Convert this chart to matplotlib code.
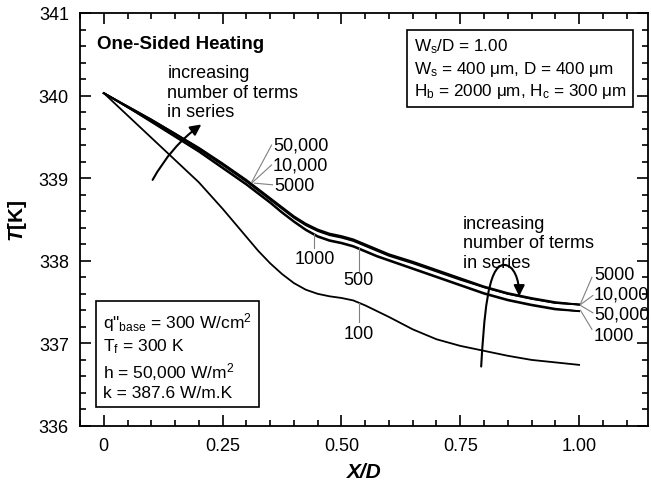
import numpy as np
import matplotlib
matplotlib.use('Agg')
import matplotlib.pyplot as plt
from matplotlib.patches import FancyArrowPatch
from matplotlib.path import Path
from matplotlib.ticker import MultipleLocator, FixedLocator

plt.rcParams['font.family'] = ['Liberation Sans', 'DejaVu Sans']
plt.rcParams['mathtext.fontset'] = 'custom'
plt.rcParams['mathtext.rm'] = 'Liberation Sans'
plt.rcParams['mathtext.it'] = 'Liberation Sans:italic:bold'
plt.rcParams['mathtext.bf'] = 'Liberation Sans:bold'

# X/D positions
xd = [0, 0.05, 0.10, 0.15, 0.20, 0.25, 0.30, 0.325, 0.35, 0.375, 0.40, 0.425, 0.45, 0.475, 0.50,
      0.525, 0.55, 0.575, 0.60, 0.65, 0.70, 0.75, 0.80, 0.85, 0.90, 0.95, 1.00]

# temperature [K] for different numbers of series terms
T_50000 = [340.03, 339.87, 339.71, 339.54, 339.37, 339.18, 338.98, 338.87, 338.76, 338.65, 338.54, 338.45, 338.38, 338.33, 338.30,
           338.26, 338.20, 338.14, 338.08, 337.99, 337.89, 337.79, 337.69, 337.61, 337.55, 337.50, 337.47]
T_10000 = [340.03, 339.87, 339.71, 339.54, 339.36, 339.17, 338.97, 338.86, 338.75, 338.64, 338.53, 338.44, 338.37, 338.32, 338.29,
           338.25, 338.19, 338.13, 338.07, 337.98, 337.88, 337.78, 337.68, 337.60, 337.54, 337.49, 337.47]
T_5000 = [340.03, 339.86, 339.70, 339.53, 339.35, 339.16, 338.96, 338.85, 338.74, 338.63, 338.52, 338.43, 338.36, 338.31, 338.28,
          338.24, 338.18, 338.12, 338.06, 337.97, 337.87, 337.77, 337.68, 337.60, 337.54, 337.49, 337.47]
T_1000 = [340.03, 339.86, 339.69, 339.51, 339.33, 339.13, 338.93, 338.82, 338.71, 338.59, 338.48, 338.38, 338.30, 338.25, 338.22,
          338.18, 338.12, 338.06, 338.01, 337.91, 337.81, 337.71, 337.61, 337.53, 337.47, 337.42, 337.39]
T_500 = [340.03, 339.86, 339.68, 339.50, 339.32, 339.12, 338.92, 338.81, 338.70, 338.58, 338.47, 338.37, 338.29, 338.24, 338.21,
         338.17, 338.11, 338.05, 338.00, 337.90, 337.80, 337.70, 337.60, 337.52, 337.46, 337.41, 337.39]
T_100 = [340.03, 339.76, 339.49, 339.22, 338.95, 338.63, 338.29, 338.12, 337.97, 337.84, 337.73, 337.65, 337.60, 337.57, 337.55,
         337.52, 337.46, 337.39, 337.32, 337.17, 337.05, 336.97, 336.91, 336.85, 336.80, 336.77, 336.74]

xticks = [0, 0.25, 0.5, 0.75, 1.0]
xticklabels = ['0', '0.25', '0.50', '0.75', '1.00']
yticks = [336, 337, 338, 339, 340, 341]

fig = plt.figure(figsize=(6.51, 4.89), dpi=100)
ax = fig.add_axes([0.1229, 0.1268, 0.8725, 0.8446])

for T in [T_50000, T_10000, T_5000, T_1000, T_500]:
    ax.plot(xd, T, color='black', lw=1.3)
ax.plot(xd, T_100, color='black', lw=1.3)

ax.set_xlim(-0.05, 1.145)
ax.set_ylim(336, 341)
ax.xaxis.set_major_locator(FixedLocator(xticks))
ax.set_xticklabels(xticklabels)
ax.xaxis.set_minor_locator(MultipleLocator(0.05))
ax.set_yticks(yticks)
ax.yaxis.set_minor_locator(MultipleLocator(0.2))
ax.tick_params(which='both', direction='in', top=True, right=True, labelsize=13, width=1.2)
ax.tick_params(which='major', length=8, pad=8)
ax.tick_params(which='minor', length=4)
for s in ax.spines.values():
    s.set_linewidth(1.3)

ax.set_xlabel('X/D', fontsize=15, fontstyle='italic', fontweight='bold', labelpad=6)
ax.set_ylabel(r'$T$[K]', fontsize=15, fontweight='bold', labelpad=7)

ax.text(-0.015, 340.63, 'One-Sided Heating', fontsize=13.5, fontweight='bold', va='center')

fs = 13
# curve labels with gray leader lines
lead = dict(color='gray', lw=0.8)
ax.plot([0.311, 0.353], [338.95, 339.40], **lead)
ax.plot([0.313, 0.353], [338.95, 339.16], **lead)
ax.plot([0.317, 0.355], [338.94, 338.92], **lead)
ax.text(0.356, 339.40, '50,000', fontsize=fs, va='center')
ax.text(0.356, 339.16, '10,000', fontsize=fs, va='center')
ax.text(0.358, 338.91, '5000', fontsize=fs, va='center')

ax.plot([0.443, 0.443], [338.32, 338.15], **lead)
ax.text(0.443, 338.03, '1000', fontsize=fs, ha='center', va='center')
ax.plot([0.536, 0.536], [338.16, 337.88], **lead)
ax.text(0.536, 337.77, '500', fontsize=fs, ha='center', va='center')
ax.plot([0.536, 0.536], [337.49, 337.26], **lead)
ax.text(0.536, 337.12, '100', fontsize=fs, ha='center', va='center')

ax.plot([1.003, 1.027], [337.48, 337.80], **lead)
ax.plot([1.003, 1.029], [337.47, 337.58], **lead)
ax.plot([1.003, 1.029], [337.46, 337.37], **lead)
ax.plot([1.003, 1.027], [337.40, 337.17], **lead)
ax.text(1.031, 337.84, '5000', fontsize=fs, va='center')
ax.text(1.031, 337.60, '10,000', fontsize=fs, va='center')
ax.text(1.031, 337.35, '50,000', fontsize=fs, va='center')
ax.text(1.031, 337.10, '1000', fontsize=fs, va='center')

# "increasing number of terms" notes and arrows
note = 'increasing\nnumber of terms\nin series'
ax.text(0.134, 340.04, note, fontsize=fs, va='center', linespacing=1.2)
ax.text(0.756, 338.22, note, fontsize=fs, va='center', linespacing=1.2)

ax.add_patch(FancyArrowPatch((0.10, 338.95), (0.21, 339.67), arrowstyle='-|>',
                             connectionstyle='arc3,rad=-0.12', mutation_scale=16,
                             color='black', lw=1.5))
loop = Path([(0.794, 336.72), (0.800, 337.29), (0.807, 337.95), (0.842, 337.95),
             (0.863, 337.95), (0.874, 337.77), (0.874, 337.57)],
            [Path.MOVETO, Path.CURVE4, Path.CURVE4, Path.CURVE4,
             Path.CURVE4, Path.CURVE4, Path.CURVE4])
ax.add_patch(FancyArrowPatch(path=loop, arrowstyle='-|>', mutation_scale=16,
                             color='black', lw=1.5))

# parameter boxes
box = dict(boxstyle='square,pad=0.4', fc='white', ec='black', lw=1.2)
ax.text(0.652, 340.33,
        'W$_\\mathrm{s}$/D = 1.00\n'
        'W$_\\mathrm{s}$ = 400 \u03bcm, D = 400 \u03bcm\n'
        'H$_\\mathrm{b}$ = 2000 \u03bcm, H$_\\mathrm{c}$ = 300 \u03bcm',
        fontsize=12.3, va='center', linespacing=1.25, bbox=box)
ax.text(-0.002, 336.86,
        'q"$_\\mathrm{base}$ = 300 W/cm$^\\mathrm{2}$\n'
        'T$_\\mathrm{f}$ = 300 K\n'
        'h = 50,000 W/m$^\\mathrm{2}$\n'
        'k = 387.6 W/m.K',
        fontsize=12.5, va='center', linespacing=1.25, bbox=box)

fig.savefig('out.png', dpi=100)
